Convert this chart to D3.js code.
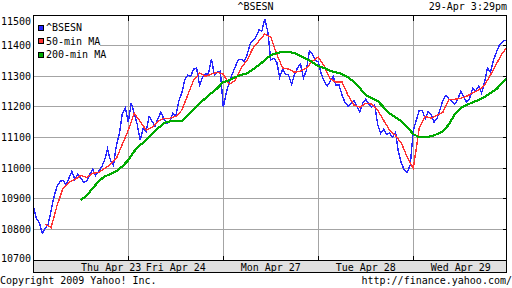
<!DOCTYPE html>
<html>
<head>
<meta charset="utf-8">
<title>^BSESN intraday</title>
<script src="https://cdnjs.cloudflare.com/ajax/libs/d3/7.8.5/d3.min.js"></script>
<style>
  body { margin: 0; background: #ffffff; }
  .yahoo-chart text { font-family: "DejaVu Sans Mono", "Liberation Mono", monospace; font-size: 10px; fill: #000; }
</style>
</head>
<body>
<div id="yahoo-chart-container"></div>
<script>
console.log("bsesn-5day-chart.js");

// ---- chart values ----
var chartTitle = "^BSESN";
var chartStamp = "29-Apr 3:29pm";
var copyrightText = "Copyright 2009 Yahoo! Inc.";
var sourceText = "http://finance.yahoo.com/";

var dayNames = ["Thu Apr 23", "Fri Apr 24", "Mon Apr 27", "Tue Apr 28", "Wed Apr 29"];
var dayLabelAt = [0.82, 1.5, 2.5, 3.5, 4.5]; // day units, where each label is centred
var yTickValues = [10700, 10800, 10900, 11000, 11100, 11200, 11300, 11400, 11500];

var seriesNames = ["^BSESN", "50-min MA", "200-min MA"];
var seriesColours = ["#2626ff", "#ff3333", "#00aa00"];

// index, 32 readings a day
var bseThu = [10878, 10836, 10823, 10787, 10803, 10816, 10862, 10908, 10940, 10957, 10960, 10947, 10967, 10990, 10963, 10980,
              10967, 10954, 10957, 10980, 10996, 10976, 10990, 11003, 11026, 11062, 11026, 11009, 11075, 11114, 11179, 11196];
var bseFri = [11150, 11212, 11179, 11143, 11091, 11130, 11120, 11169, 11153, 11137, 11163, 11183, 11160, 11147, 11150, 11179,
              11169, 11219, 11245, 11287, 11304, 11300, 11323, 11327, 11271, 11297, 11307, 11307, 11356, 11304, 11313, 11317];
var bseMon = [11199, 11245, 11281, 11307, 11330, 11353, 11356, 11349, 11369, 11405, 11418, 11428, 11451, 11448, 11487, 11444,
              11353, 11359, 11346, 11297, 11323, 11307, 11304, 11274, 11307, 11327, 11340, 11294, 11320, 11382, 11372, 11353];
var bseTue = [11346, 11307, 11284, 11268, 11284, 11300, 11271, 11271, 11238, 11215, 11202, 11212, 11222, 11202, 11183, 11212,
              11225, 11209, 11199, 11206, 11143, 11114, 11127, 11111, 11114, 11101, 11117, 11052, 11016, 10993, 10986, 11012];
var bseWed = [11124, 11156, 11189, 11189, 11160, 11186, 11176, 11150, 11163, 11192, 11222, 11238, 11225, 11219, 11209, 11225,
              11251, 11232, 11215, 11228, 11261, 11251, 11268, 11245, 11281, 11327, 11313, 11353, 11379, 11402, 11412, 11418];

// 50-min moving average, 16 readings a day
var ma50Thu = [null, null, 10816, 10806, 10878, 10934, 10954, 10963, 10976, 10970, 10983, 10986, 10999, 11012, 11032, 11078];
var ma50Fri = [11124, 11179, 11153, 11124, 11134, 11153, 11163, 11163, 11169, 11189, 11238, 11287, 11310, 11300, 11307, 11313];
var ma50Mon = [11307, 11274, 11287, 11327, 11353, 11392, 11415, 11438, 11428, 11372, 11327, 11323, 11313, 11317, 11327, 11349];
var ma50Tue = [11363, 11333, 11291, 11281, 11281, 11238, 11206, 11199, 11212, 11209, 11189, 11156, 11124, 11107, 11081, 11035];
var ma50Wed = [10999, 11130, 11169, 11163, 11173, 11183, 11225, 11225, 11228, 11235, 11245, 11255, 11271, 11304, 11340, 11376, 11399];

// 200-min moving average, 16 readings a day
var ma200Thu = [null, null, null, null, null, null, null, null, 10895, 10911, 10934, 10957, 10973, 10980, 10990, 11006];
var ma200Fri = [11026, 11055, 11075, 11091, 11111, 11130, 11147, 11153, 11153, 11153, 11173, 11192, 11212, 11228, 11245, 11261];
var ma200Mon = [11281, 11287, 11297, 11304, 11310, 11323, 11336, 11353, 11369, 11376, 11379, 11379, 11376, 11366, 11356, 11346];
var ma200Tue = [11333, 11327, 11317, 11313, 11307, 11297, 11281, 11261, 11238, 11228, 11219, 11199, 11179, 11166, 11153, 11134];
var ma200Wed = [11111, 11101, 11101, 11104, 11111, 11120, 11143, 11176, 11196, 11206, 11215, 11222, 11232, 11245, 11258, 11278, 11297];

vis = {}; // global object for sizes
vis.width = 512;
vis.height = 288;
vis.plot = { left: 33.5, right: 506.5, top: 15.5, bottom: 260.5, band: 272.5 };

/*
  NAME: flattenDays
  DESCRIPTION: turn the per-day arrays into one list of {t, v}, t in trading days
  ARGUMENTS TAKEN: days - array of day arrays, perDay - readings per day
  ARGUMENTS RETURNED: array of points
*/
function flattenDays(days, perDay) {
  var out = [];
  days.forEach(function (arr, d) {
    arr.forEach(function (v, j) {
      if (v !== null) out.push({ t: d + j / perDay, v: v });
    });
  });
  return out;
} // end function flattenDays

function crisp(p) {
  return Math.floor(p) + 0.5;
}

/*
  NAME: drawChart
  DESCRIPTION: builds the whole Yahoo style 5 day chart
*/
function drawChart() {
  var series = [
    flattenDays([bseThu, bseFri, bseMon, bseTue, bseWed], 32),
    flattenDays([ma50Thu, ma50Fri, ma50Mon, ma50Tue, ma50Wed], 16),
    flattenDays([ma200Thu, ma200Fri, ma200Mon, ma200Tue, ma200Wed], 16)
  ];
  var widths = [1.4, 1.4, 2.2];

  var x = d3.scaleLinear().domain([0, dayNames.length]).range([33.3, 508.3]);
  var y = d3.scaleLinear().domain([10700, 11500]).range([260, 15]);

  var svg = d3.select("#yahoo-chart-container")
    .append("svg")
    .attr("class", "yahoo-chart")
    .attr("width", vis.width)
    .attr("height", vis.height);

  svg.append("defs").append("clipPath").attr("id", "plot-clip")
    .append("rect")
    .attr("x", vis.plot.left)
    .attr("y", vis.plot.top)
    .attr("width", vis.plot.right - vis.plot.left)
    .attr("height", vis.plot.bottom - vis.plot.top);

  // header texts
  svg.append("text").attr("x", 255.5).attr("y", 10).attr("text-anchor", "middle").text(chartTitle);
  svg.append("text").attr("x", 507).attr("y", 10).attr("text-anchor", "end").text(chartStamp);

  var grid = svg.append("g").attr("shape-rendering", "crispEdges");

  // horizontal gridlines + right hand ticks
  yTickValues.slice(1, -1).forEach(function (v) {
    var gy = crisp(y(v));
    grid.append("line")
      .attr("x1", vis.plot.left).attr("x2", vis.plot.right)
      .attr("y1", gy).attr("y2", gy)
      .attr("stroke", "#a4a4a4");
    grid.append("line")
      .attr("x1", vis.plot.right - 4).attr("x2", vis.plot.right)
      .attr("y1", gy).attr("y2", gy)
      .attr("stroke", "#000");
  });

  // vertical day dividers, black ticks top and bottom
  d3.range(1, dayNames.length).forEach(function (d) {
    var gx = crisp(x(d));
    grid.append("line")
      .attr("x1", gx).attr("x2", gx)
      .attr("y1", vis.plot.top).attr("y2", vis.plot.bottom)
      .attr("stroke", "#a4a4a4");
    grid.append("line")
      .attr("x1", gx).attr("x2", gx)
      .attr("y1", vis.plot.top).attr("y2", vis.plot.top + 5)
      .attr("stroke", "#000");
    grid.append("line")
      .attr("x1", gx).attr("x2", gx)
      .attr("y1", vis.plot.bottom - 5).attr("y2", vis.plot.bottom)
      .attr("stroke", "#000");
  });

  // y labels, kept inside the plot height like the original
  svg.append("g").selectAll("text")
    .data(yTickValues)
    .enter()
    .append("text")
    .attr("x", 31)
    .attr("y", function (v) { return Math.min(258, Math.max(21, y(v))) + 3.6; })
    .attr("text-anchor", "end")
    .text(function (v) { return v; });

  // legend box (white, hides the gridline behind it)
  var legend = svg.append("g");
  legend.append("rect")
    .attr("x", 34).attr("y", 20).attr("width", 66).attr("height", 40)
    .attr("fill", "#fff");

  // data lines, aliased like the original gif
  var line = d3.line()
    .x(function (p) { return x(p.t); })
    .y(function (p) { return y(p.v); });

  var lines = svg.append("g").attr("clip-path", "url(#plot-clip)");
  series.forEach(function (s, i) {
    lines.append("path")
      .attr("d", line(s))
      .attr("fill", "none")
      .attr("stroke", seriesColours[i])
      .attr("stroke-width", widths[i])
      .attr("shape-rendering", "crispEdges");
  });

  // legend entries
  seriesNames.forEach(function (name, i) {
    var cy = 27.5 + i * 13.5;
    legend.append("rect")
      .attr("x", 38.5).attr("y", Math.floor(cy - 2.5) + 0.5)
      .attr("width", 5).attr("height", 5)
      .attr("fill", seriesColours[i])
      .attr("stroke", "#000")
      .attr("shape-rendering", "crispEdges");
    legend.append("text")
      .attr("x", 46)
      .attr("y", cy + 3.6)
      .text(name);
  });

  // plot frame
  svg.append("rect")
    .attr("x", vis.plot.left).attr("y", vis.plot.top)
    .attr("width", vis.plot.right - vis.plot.left)
    .attr("height", vis.plot.bottom - vis.plot.top)
    .attr("fill", "none").attr("stroke", "#000")
    .attr("shape-rendering", "crispEdges");

  // grey date band below the plot
  svg.append("rect")
    .attr("x", vis.plot.left).attr("y", vis.plot.bottom)
    .attr("width", vis.plot.right - vis.plot.left)
    .attr("height", vis.plot.band - vis.plot.bottom)
    .attr("fill", "#e0e0e0").attr("stroke", "#000")
    .attr("shape-rendering", "crispEdges");

  svg.append("g").selectAll("text")
    .data(dayNames)
    .enter()
    .append("text")
    .attr("x", function (n, i) { return x(dayLabelAt[i]); })
    .attr("y", 270.5)
    .attr("text-anchor", "middle")
    .text(function (n) { return n; });

  // footer
  svg.append("text").attr("x", 0).attr("y", 284).text(copyrightText);
  svg.append("text").attr("x", 512).attr("y", 284).attr("text-anchor", "end").text(sourceText);

  return;
} // end function drawChart

drawChart();
</script>
</body>
</html>
